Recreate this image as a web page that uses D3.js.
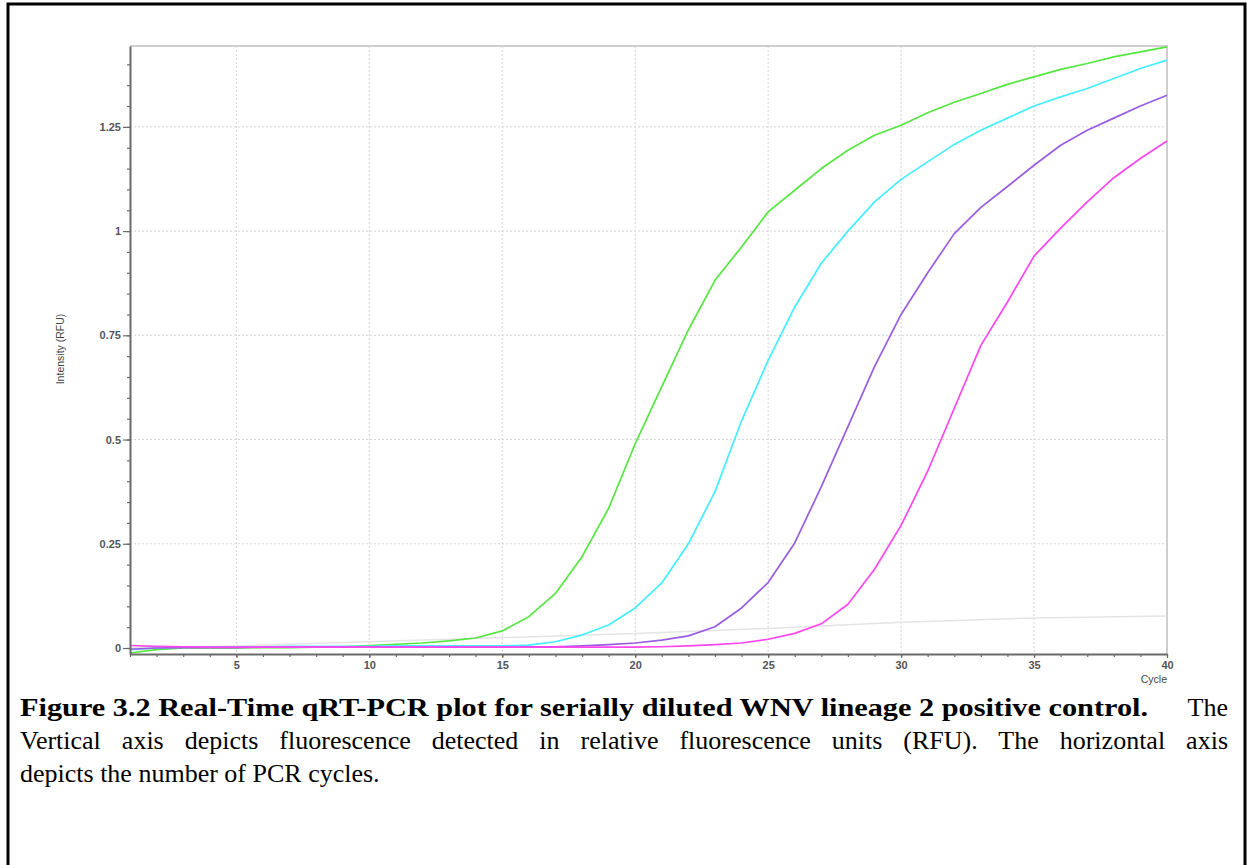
<!DOCTYPE html>
<html>
<head>
<meta charset="utf-8">
<script src="https://cdn.jsdelivr.net/npm/d3@7"></script>
<style>
body { margin: 0; background: #fff; }
</style>
</head>
<body>
<script>
// cycle numbers (x) and intensity (RFU) per sample
var cycles = [1,2,3,4,5,6,7,8,9,10,11,12,13,14,15,16,17,18,19,20,
	21,22,23,24,25,26,27,28,29,30,31,32,33,34,35,36,37,38,39,40]

var green = [-0.012,-0.004,0,0,0,0.001,0.001,0.002,0.003,0.006,
	0.009,0.012,0.017,0.024,0.041,0.075,0.131,0.219,0.335,0.49,
	0.627,0.763,0.882,0.962,1.046,1.098,1.15,1.194,1.23,1.254,
	1.284,1.309,1.33,1.352,1.37,1.388,1.402,1.418,1.43,1.442]

var cyan = [-0.004,0,0.002,0.003,0.003,0.003,0.004,0.004,0.004,0.004,
	0.005,0.005,0.005,0.005,0.005,0.007,0.015,0.031,0.055,0.096,
	0.156,0.25,0.375,0.545,0.69,0.818,0.923,1.0,1.07,1.124,
	1.166,1.208,1.242,1.271,1.3,1.322,1.342,1.366,1.39,1.41]

var purple = [-0.003,0,0.001,0.001,0.001,0.002,0.002,0.002,0.002,0.002,
	0.002,0.002,0.002,0.002,0.002,0.003,0.003,0.005,0.008,0.012,
	0.019,0.029,0.051,0.096,0.157,0.252,0.387,0.531,0.675,0.8,
	0.9,0.994,1.057,1.107,1.158,1.206,1.242,1.271,1.3,1.326]

var magenta = [0.006,0.004,0.003,0.002,0.002,0.002,0.002,0.002,0.002,0.002,
	0.002,0.002,0.002,0.002,0.002,0.002,0.002,0.002,0.002,0.002,
	0.003,0.005,0.008,0.012,0.021,0.035,0.058,0.105,0.189,0.294,
	0.424,0.575,0.726,0.83,0.94,1.007,1.07,1.128,1.174,1.216]

// faint baseline trace (read at every 5th cycle)
var grayCycles = [1,5,10,15,20,25,30,35,40]
var gray = [0,0.005,0.015,0.025,0.035,0.047,0.062,0.072,0.077]

var series = [
	{name: 'gray', values: gray, xs: grayCycles, color: '#e4e4e4'},
	{name: 'green', values: green, xs: cycles, color: '#55e640'},
	{name: 'cyan', values: cyan, xs: cycles, color: '#44eeff'},
	{name: 'purple', values: purple, xs: cycles, color: '#9a5ddf'},
	{name: 'magenta', values: magenta, xs: cycles, color: '#ff45ee'}
]

var xMajor = [5,10,15,20,25,30,35,40]
var xMinor = cycles
var yMajor = [0,0.25,0.5,0.75,1,1.25]
var yLabels = ['0','0.25','0.5','0.75','1','1.25']
var yMinor = d3.range(0, 29).map(function(i){ return +(i*0.05).toFixed(2) })

var captionBold = 'Figure 3.2 Real-Time qRT-PCR plot for serially diluted WNV lineage 2 positive control.'
var captionLines = [
	'Vertical axis depicts fluorescence detected in relative fluorescence units (RFU). The horizontal axis',
	'depicts the number of PCR cycles.'
]

var svg = d3.select('body').append('svg')
	.attr('width', 1247)
	.attr('height', 865)

// page frame
svg.append('rect')
	.attr('x', 8).attr('y', 4)
	.attr('width', 1237).attr('height', 880)
	.attr('fill', 'none')
	.attr('stroke', '#000')
	.attr('stroke-width', 3)

var x = d3.scaleLinear().domain([1, 40]).range([130, 1167])
var y = d3.scaleLinear().domain([-0.0144, 1.444]).range([654, 46])

var plot = svg.append('g')

// grid
plot.selectAll('.vgrid').data(xMajor).enter().append('line')
	.attr('x1', function(d){ return x(d) }).attr('x2', function(d){ return x(d) })
	.attr('y1', y.range()[1]).attr('y2', y.range()[0])
	.attr('stroke', '#d4d4d4').attr('stroke-width', 1)
	.attr('stroke-dasharray', '2,2')

plot.selectAll('.hgrid').data(yMajor.slice(1)).enter().append('line')
	.attr('x1', x.range()[0]).attr('x2', x.range()[1])
	.attr('y1', function(d){ return y(d) }).attr('y2', function(d){ return y(d) })
	.attr('stroke', '#d4d4d4').attr('stroke-width', 1)
	.attr('stroke-dasharray', '2,2')

// top and right border
plot.append('path')
	.attr('d', 'M' + x.range()[0] + ',' + y.range()[1] + 'H' + x.range()[1] + 'V' + y.range()[0])
	.attr('fill', 'none')
	.attr('stroke', '#cfcfcf')
	.attr('stroke-width', 2)

// curves
var line = d3.line()
	.x(function(d){ return x(d[0]) })
	.y(function(d){ return y(d[1]) })

plot.selectAll('.curve').data(series).enter().append('path')
	.attr('d', function(s){ return line(s.xs.map(function(c, i){ return [c, s.values[i]] })) })
	.attr('fill', 'none')
	.attr('stroke', function(s){ return s.color })
	.attr('stroke-width', function(s){ return s.name == 'gray' ? 1.5 : 1.7 })
	.attr('stroke-linejoin', 'round')

// axes
var axisColor = '#6a6a6a'
function styleAxis(g){
	g.select('.domain').attr('stroke', axisColor).attr('stroke-width', 2)
	g.selectAll('.tick line').attr('stroke', axisColor).attr('stroke-width', 1.2)
	g.selectAll('text')
		.attr('fill', '#555')
		.style('font-family', '"Liberation Sans", Arial, sans-serif')
		.style('font-size', '11px')
		.style('font-weight', 'bold')
}

svg.append('g')
	.attr('transform', 'translate(130,0)')
	.call(d3.axisLeft(y).tickValues(yMinor).tickSize(3).tickSizeOuter(0).tickFormat(''))
	.call(styleAxis)

svg.append('g')
	.attr('transform', 'translate(130,0)')
	.call(d3.axisLeft(y).tickValues(yMajor).tickSize(7).tickSizeOuter(0).tickPadding(2)
		.tickFormat(function(d, i){ return yLabels[i] }))
	.call(styleAxis)
	.call(function(g){ g.select('.domain').remove() })

svg.append('g')
	.attr('transform', 'translate(0,654)')
	.call(d3.axisBottom(x).tickValues(xMinor).tickSize(3).tickSizeOuter(0).tickFormat(''))
	.call(styleAxis)

svg.append('g')
	.attr('transform', 'translate(0,654)')
	.call(d3.axisBottom(x).tickValues(xMajor).tickSize(4).tickSizeOuter(0).tickPadding(3))
	.call(styleAxis)
	.call(function(g){ g.select('.domain').remove() })

// axis titles
svg.append('text')
	.attr('x', 1167).attr('y', 683)
	.attr('text-anchor', 'end')
	.style('font-family', '"Liberation Sans", Arial, sans-serif')
	.style('font-size', '10.5px')
	.attr('fill', '#444')
	.text('Cycle')

svg.append('text')
	.attr('transform', 'translate(64,349) rotate(-90)')
	.attr('text-anchor', 'middle')
	.style('font-family', '"Liberation Sans", Arial, sans-serif')
	.style('font-size', '10.5px')
	.attr('fill', '#444')
	.text('Intensity (RFU)')

// caption
var capLeft = 20, capRight = 1228
var capFont = '"Liberation Serif", "Times New Roman", serif'

function capText(yPos){
	return svg.append('text')
		.attr('x', capLeft).attr('y', yPos)
		.style('font-family', capFont)
		.style('font-size', '26px')
		.attr('fill', '#000')
}

// line 1: bold title, then "The" flush right
capText(716)
	.style('font-weight', 'bold')
	.attr('textLength', 1128)
	.attr('lengthAdjust', 'spacingAndGlyphs')
	.text(captionBold)

capText(716)
	.attr('x', capRight)
	.attr('text-anchor', 'end')
	.text('The')

// line 2 justified by stretching word gaps, line 3 ragged
var cap2 = capText(749).text(captionLines[0])
var w = cap2.node().getComputedTextLength()
var gaps = captionLines[0].split(' ').length - 1
cap2.style('word-spacing', ((capRight - capLeft - w) / gaps) + 'px')

capText(782).text(captionLines[1])
</script>
</body>
</html>
